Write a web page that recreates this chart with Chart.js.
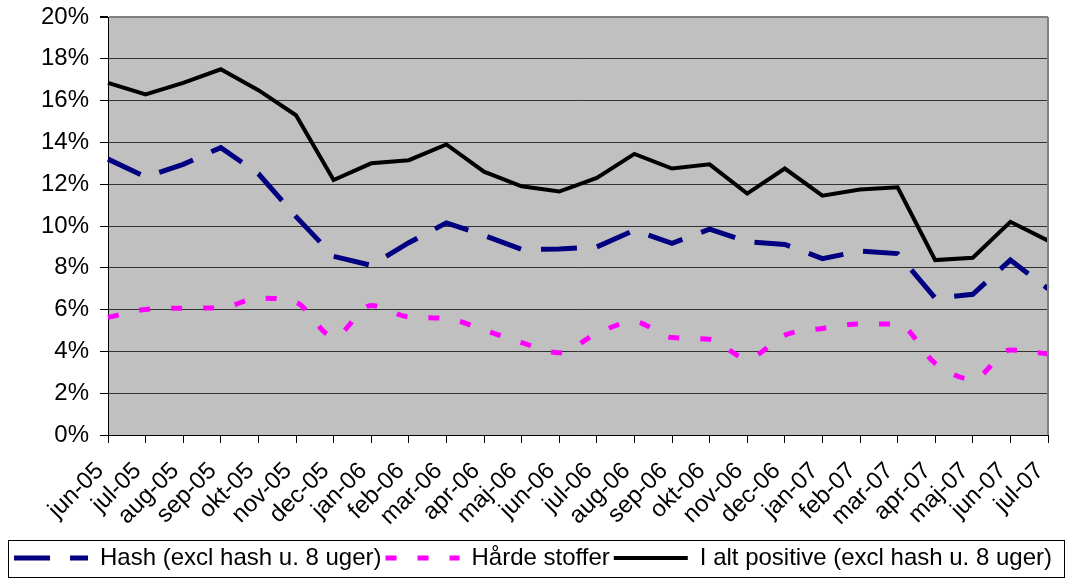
<!DOCTYPE html>
<html>
<head>
<meta charset="utf-8">
<script src="https://cdn.jsdelivr.net/npm/chart.js@4"></script>
<style>
  html, body { margin: 0; padding: 0; background: #fff; }
  #wrap { width: 1066px; height: 580px; }
</style>
</head>
<body>
<div id="wrap"><canvas id="chart" width="1066" height="580"></canvas></div>
<script>
// monthly share of positive tests, in percent

const months = ["jun-05", "jul-05", "aug-05", "sep-05", "okt-05", "nov-05", "dec-05",
    "jan-06", "feb-06", "mar-06", "apr-06", "maj-06", "jun-06", "jul-06", "aug-06",
    "sep-06", "okt-06", "nov-06", "dec-06", "jan-07", "feb-07", "mar-07", "apr-07",
    "maj-07", "jun-07", "jul-07"];

const hash = [13.2, 12.35, 12.95, 13.75, 12.5, 10.45, 8.55, 8.12, 9.2, 10.15, 9.55, 8.88,
    8.9, 9.0, 9.8, 9.17, 9.85, 9.25, 9.12, 8.44, 8.8, 8.68, 6.55, 6.73, 8.37, 7.0];

const haardeStoffer = [5.63, 6.01, 6.07, 6.08, 6.55, 6.35, 4.7, 6.2, 5.65, 5.58, 5.02, 4.42,
    3.94, 4.86, 5.42, 4.66, 4.58, 3.67, 4.78, 5.1, 5.31, 5.31, 3.43, 2.66, 4.07, 3.88];

const iAltPositive = [16.85, 16.3, 16.85, 17.5, 16.5, 15.3, 12.2, 13.0, 13.15, 13.9, 12.6, 11.9,
    11.65, 12.3, 13.45, 12.75, 12.95, 11.55, 12.75, 11.45, 11.75, 11.85, 8.37, 8.48, 10.2, 9.3];

const yTicks = [0, 2, 4, 6, 8, 10, 12, 14, 16, 18, 20];

const FONT = "'Liberation Sans', Arial, sans-serif";

// grey plot background, right border and the box round the legend
const decor = {
    id: "decor",
    beforeDraw(chart) {
        const { ctx, chartArea: a } = chart;
        ctx.save();
        ctx.fillStyle = "#c0c0c0";
        ctx.fillRect(a.left, a.top, a.right - a.left, a.bottom - a.top);
        ctx.restore();
    },
    afterDraw(chart) {
        const { ctx, chartArea: a } = chart;
        ctx.save();
        ctx.strokeStyle = "#808080";
        ctx.lineWidth = 2;
        ctx.beginPath();
        ctx.moveTo(a.right, a.top);
        ctx.lineTo(a.right, a.bottom);
        ctx.stroke();
        ctx.strokeStyle = "#000";
        ctx.lineWidth = 1;
        ctx.strokeRect(8.5, 540.5, 1056, 37);
        ctx.restore();
    }
};

new Chart(document.getElementById("chart").getContext("2d"), {
    type: "line",
    data: {
        labels: months,
        datasets: [
            {
                label: "Hash (excl hash u. 8 uger)",
                data: hash,
                borderColor: "#000080",
                backgroundColor: "#000080",
                borderWidth: 5,
                borderDash: [36, 20],
                pointRadius: 0,
                tension: 0
            },
            {
                label: "Hårde stoffer",
                data: haardeStoffer,
                borderColor: "#ff00ff",
                backgroundColor: "#ff00ff",
                borderWidth: 5,
                borderDash: [11, 21],
                pointRadius: 0,
                cubicInterpolationMode: "monotone"
            },
            {
                label: "I alt positive (excl hash u. 8 uger)",
                data: iAltPositive,
                borderColor: "#000",
                backgroundColor: "#000",
                borderWidth: 4,
                pointRadius: 0,
                tension: 0
            }
        ]
    },
    options: {
        responsive: false,
        animation: false,
        layout: { padding: 0 },
        plugins: {
            title: { display: false },
            tooltip: { enabled: false },
            legend: {
                position: "bottom",
                align: "center",
                labels: {
                    usePointStyle: true,
                    pointStyle: "line",
                    pointStyleWidth: 74,
                    boxHeight: 8,
                    padding: 4,
                    color: "#000",
                    font: { family: FONT, size: 24, lineHeight: 1 },
                    generateLabels(chart) {
                        return chart.data.datasets.map((ds, i) => ({
                            text: ds.label,
                            fillStyle: ds.borderColor,
                            strokeStyle: ds.borderColor,
                            lineWidth: ds.borderWidth,
                            lineDash: ds.borderDash || [],
                            pointStyle: "line",
                            datasetIndex: i,
                            fontColor: "#000"
                        }));
                    }
                }
            }
        },
        scales: {
            x: {
                offset: false,
                afterFit(scale) {
                    scale.height = 107;
                    scale.paddingLeft = 0;
                    scale.paddingRight = 18;
                },
                grid: {
                    display: true,
                    drawOnChartArea: false,
                    drawTicks: true,
                    tickLength: 8,
                    color: "#000"
                },
                border: { display: true, color: "#000", width: 1 },
                ticks: {
                    autoSkip: false,
                    minRotation: 45,
                    maxRotation: 45,
                    padding: 14,
                    labelOffset: -8,
                    color: "#000",
                    font: { family: FONT, size: 24 }
                }
            },
            y: {
                min: 0,
                max: 20,
                afterFit(scale) {
                    scale.width = 108;
                    scale.paddingTop = 17;
                    scale.paddingBottom = 0;
                },
                afterBuildTicks(scale) { scale.ticks = yTicks.map(v => ({ value: v })); },
                grid: {
                    color: ctx => ctx.tick && ctx.tick.value === 20 ? "#808080" : "#333",
                    lineWidth: ctx => ctx.tick && ctx.tick.value === 20 ? 2 : 1,
                    tickColor: "#000",
                    tickLength: 8
                },
                border: { display: true, color: "#000", width: 1 },
                ticks: {
                    padding: 11,
                    color: "#000",
                    font: { family: FONT, size: 24 },
                    callback: v => v + "%"
                }
            }
        }
    },
    plugins: [decor]
});
</script>
</body>
</html>
